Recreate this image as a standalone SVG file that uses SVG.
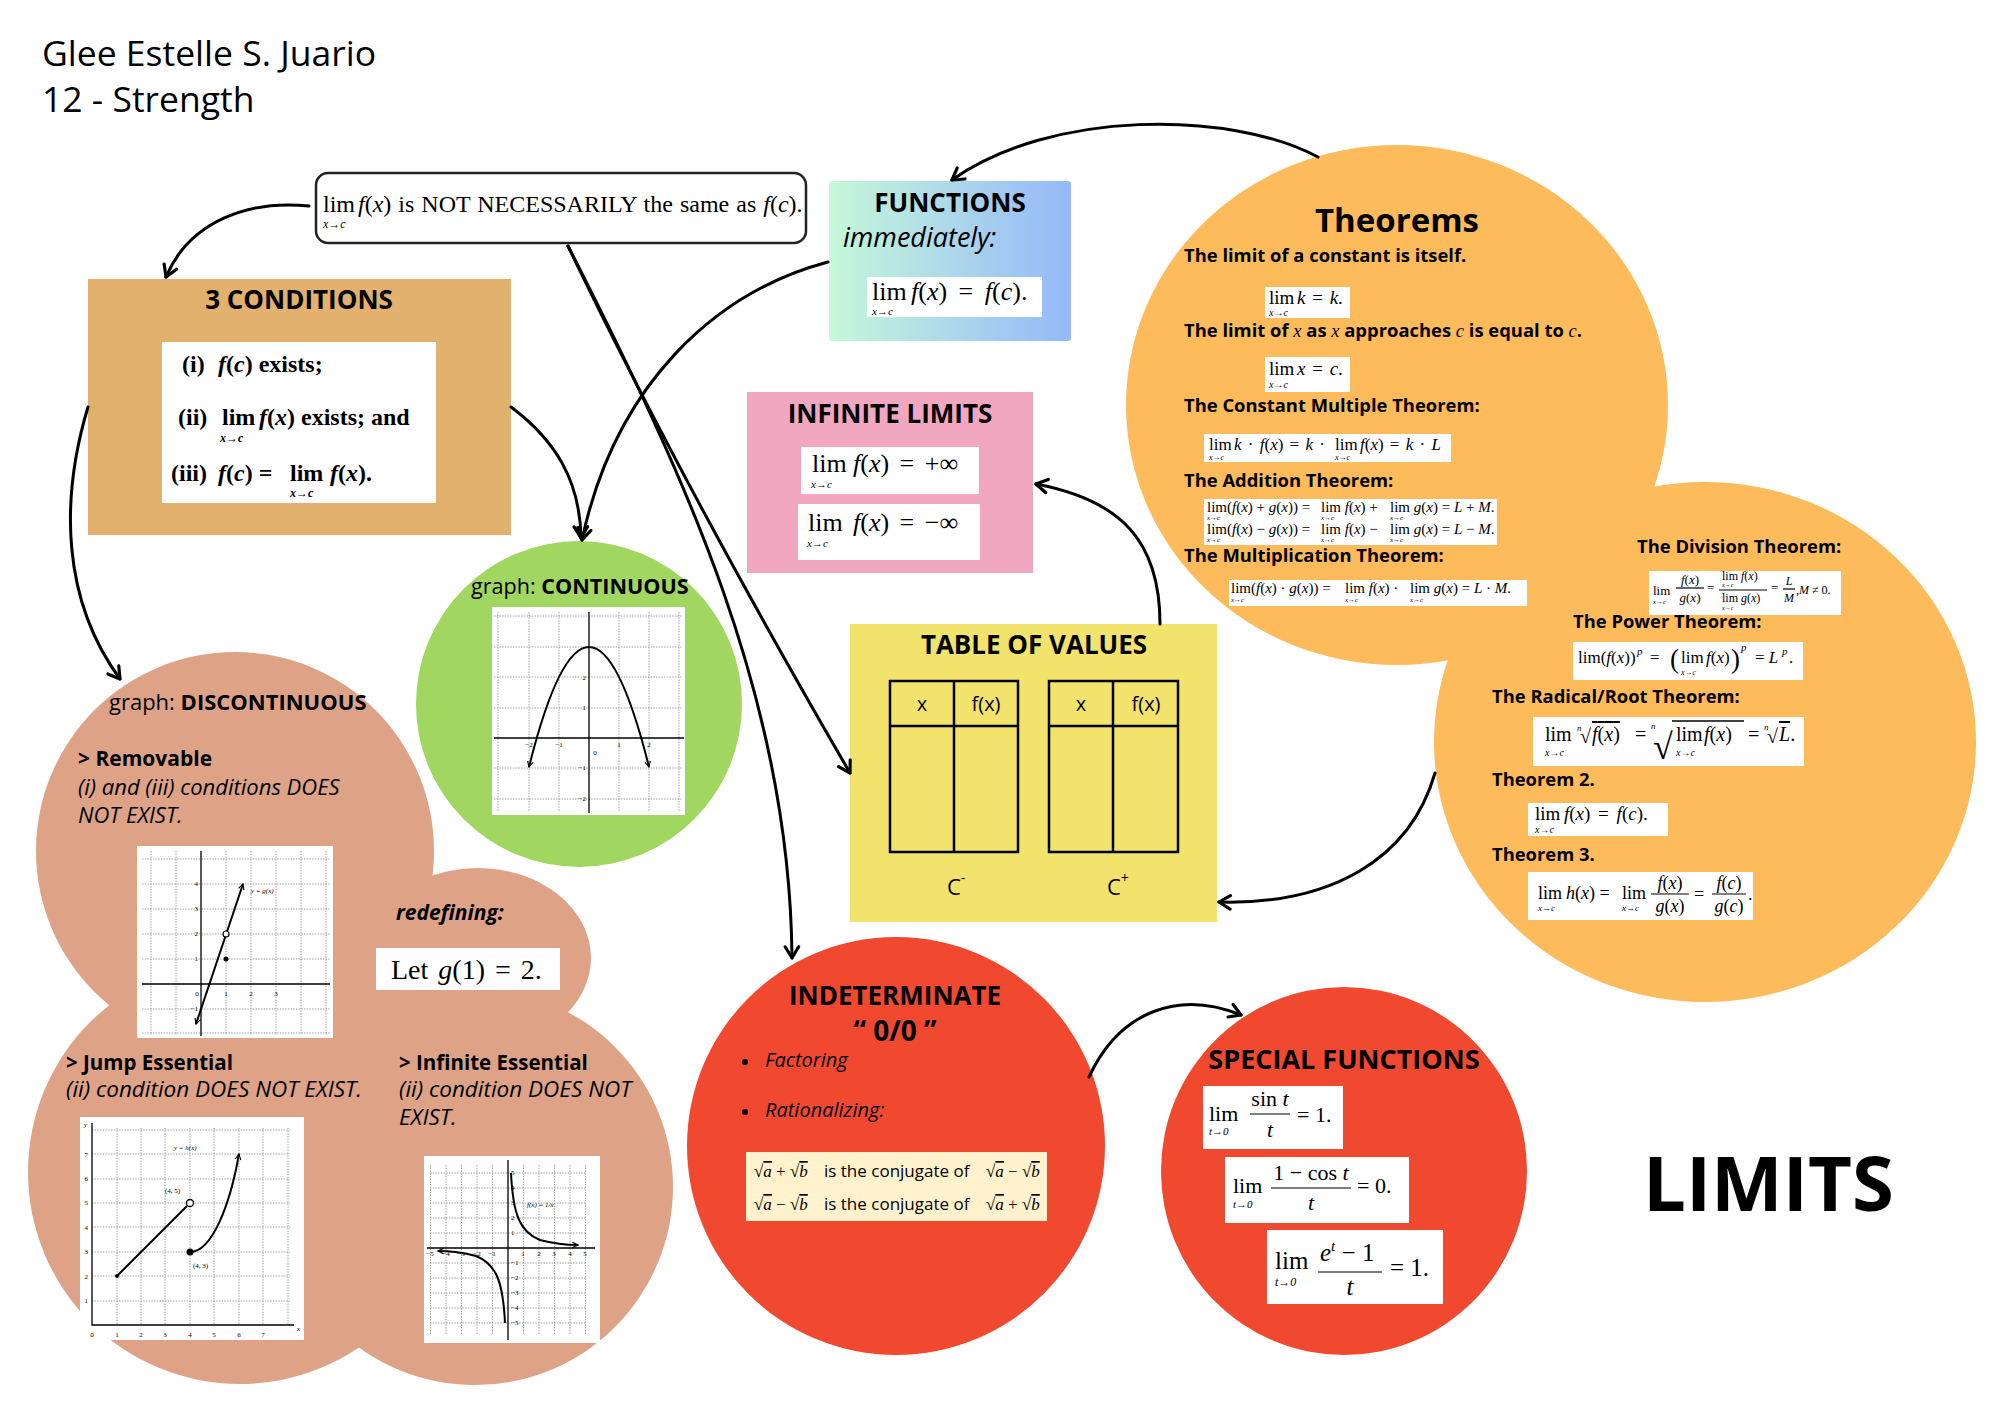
<svg xmlns="http://www.w3.org/2000/svg" width="2000" height="1414" viewBox="0 0 2000 1414">
<defs>
<style>
svg{font-family:"Open Sans","Liberation Sans",sans-serif}
text{fill:#000}
.hb{font-weight:700}
.m{font-family:"Liberation Serif","Times New Roman",serif}
.it{font-style:italic}
.wb{fill:#fff}
.con{fill:none;stroke:#000;stroke-width:3;stroke-linecap:round;marker-end:url(#ah)}
.grid{fill:none;stroke:#8a8a8a;stroke-width:0.8;stroke-dasharray:1.5 1.2}
.ax{stroke:#000;stroke-width:1.3;fill:none}
.crv{stroke:#000;stroke-width:2;fill:none}
.tk{font-family:"Liberation Serif",serif;font-size:7px}
.ol{text-decoration:overline}
.frac{stroke:#000;stroke-width:1.2}
.tbl{fill:none;stroke:#000;stroke-width:2.5}
</style>
<marker id="ah" viewBox="0 0 16 16" refX="13" refY="8" markerWidth="18" markerHeight="18" markerUnits="userSpaceOnUse" orient="auto"><path d="M3,2 L13,8 L3,14" fill="none" stroke="#000" stroke-width="2.8" stroke-linecap="round" stroke-linejoin="round"/></marker>
<marker id="sa" viewBox="0 0 10 10" refX="9" refY="5" markerWidth="7" markerHeight="7" markerUnits="userSpaceOnUse" orient="auto-start-reverse"><path d="M1,1 L9,5 L1,9" fill="none" stroke="#000" stroke-width="1.6"/></marker>
<linearGradient id="fg" x1="0" y1="0" x2="1" y2="0"><stop offset="0" stop-color="#C6F8D9"/><stop offset="1" stop-color="#94B8FA"/></linearGradient>
</defs>
<rect width="2000" height="1414" fill="#fff"/>

<g id="title">
<text x="42" y="66" font-size="35.5">Glee Estelle S. Juario</text>
<text x="42" y="112" font-size="35.5">12 - Strength</text>
</g>

<g id="limits-title"><text class="hb" x="1643" y="1211" font-size="76">LIMITS</text></g>

<g id="not-necessarily">
<rect x="316" y="173" width="490" height="70" rx="12" fill="#fff" stroke="#222" stroke-width="2.5"/>
<text class="m" font-size="24" y="212" word-spacing="1"><tspan x="323">lim</tspan><tspan x="358" class="it">f</tspan>(<tspan class="it">x</tspan>) is NOT NECESSARILY the same as <tspan class="it">f</tspan>(<tspan class="it">c</tspan>).</text>
<text class="m it" font-size="12" x="323" y="228">x→c</text>
</g>

<g id="three-conditions">
<rect x="88" y="279" width="423" height="256" fill="#E1B16D"/>
<text class="hb" x="299" y="309" font-size="26" text-anchor="middle">3 CONDITIONS</text>
<rect class="wb" x="162" y="342" width="274" height="161"/>
<text class="m hb" font-size="24" y="372"><tspan x="182">(i)</tspan><tspan x="218" class="it">f</tspan>(<tspan class="it">c</tspan>) exists;</text>
<text class="m hb" font-size="24" y="425"><tspan x="178">(ii)</tspan><tspan x="222">lim</tspan><tspan x="259" class="it">f</tspan>(<tspan class="it">x</tspan>) exists; and</text>
<text class="m hb it" font-size="12" x="220" y="442">x→c</text>
<text class="m hb" font-size="24" y="481"><tspan x="171">(iii)</tspan><tspan x="218" class="it">f</tspan>(<tspan class="it">c</tspan>) = <tspan x="290">lim</tspan><tspan x="330" class="it">f</tspan>(<tspan class="it">x</tspan>).</text>
<text class="m hb it" font-size="12" x="290" y="497">x→c</text>
</g>

<g id="functions">
<rect x="829" y="181" width="242" height="160" rx="3" fill="url(#fg)"/>
<text class="hb" x="950" y="212" font-size="26" text-anchor="middle">FUNCTIONS</text>
<text class="it" x="843" y="247" font-size="27">immediately:</text>
<rect class="wb" x="867" y="277" width="175" height="40"/>
<text class="m" font-size="26" y="300" word-spacing="5"><tspan x="872">lim</tspan><tspan x="911" class="it">f</tspan>(<tspan class="it">x</tspan>) = <tspan class="it">f</tspan>(<tspan class="it">c</tspan>).</text>
<text class="m it" font-size="11" x="872" y="315">x→c</text>
</g>

<g id="infinite-limits">
<rect x="747" y="392" width="286" height="181" fill="#F2A7C0"/>
<text class="hb" x="890" y="423" font-size="26" text-anchor="middle">INFINITE LIMITS</text>
<rect class="wb" x="801" y="447" width="178" height="47"/>
<rect class="wb" x="798" y="504" width="182" height="56"/>
<text class="m" font-size="26" y="472" word-spacing="4"><tspan x="812">lim</tspan><tspan x="853" class="it">f</tspan>(<tspan class="it">x</tspan>) = +∞</text>
<text class="m it" font-size="11" x="811" y="488">x→c</text>
<text class="m" font-size="26" y="531" word-spacing="4"><tspan x="808">lim</tspan><tspan x="853" class="it">f</tspan>(<tspan class="it">x</tspan>) = −∞</text>
<text class="m it" font-size="11" x="807" y="547">x→c</text>
</g>

<g id="continuous">
<circle cx="579" cy="704" r="163" fill="#A1D661"/>
<text x="471" y="594" font-size="21.6">graph: <tspan class="hb">CONTINUOUS</tspan></text>
<rect class="wb" x="492" y="607" width="193" height="208"/>
<path class="grid" d="M498,612V812M529,612V812M559,612V812M619,612V812M649,612V812M679,612V812M494,616H683M494,647H683M494,677H683M494,708H683M494,768H683M494,799H683"/>
<path class="ax" d="M589,612V813M494,738H684"/>
<path class="crv" d="M529,767 Q589,527 649,767" marker-start="url(#sa)" marker-end="url(#sa)"/>
<text class="tk" font-size="6" text-anchor="middle"><tspan x="529" y="747">−2</tspan><tspan x="559" y="747">−1</tspan><tspan x="619" y="747">1</tspan><tspan x="649" y="747">2</tspan><tspan x="595" y="755">0</tspan></text>
<text class="tk" font-size="6" text-anchor="end"><tspan x="586" y="680">2</tspan><tspan x="586" y="710">1</tspan><tspan x="586" y="770">−1</tspan><tspan x="586" y="801">−2</tspan></text>
</g>

<g id="table-of-values">
<rect x="850" y="624" width="367" height="298" fill="#F1E36C"/>
<text class="hb" x="1034" y="654" font-size="26" text-anchor="middle">TABLE OF VALUES</text>
<rect class="tbl" x="890" y="681" width="128" height="171"/>
<path class="tbl" d="M890,726H1018M954,681V852"/>
<rect class="tbl" x="1049" y="681" width="129" height="171"/>
<path class="tbl" d="M1049,726H1178M1113,681V852"/>
<text font-size="20" text-anchor="middle" y="711"><tspan x="922">x</tspan><tspan x="986">f(x)</tspan><tspan x="1081">x</tspan><tspan x="1146">f(x)</tspan></text>
<text x="947" y="895" font-size="22">C<tspan font-size="14" dy="-12">-</tspan></text>
<text x="1107" y="895" font-size="22">C<tspan font-size="14" dy="-12">+</tspan></text>
</g>

<g id="theorems">
<g fill="#FEBB5B"><ellipse cx="1397" cy="405" rx="271" ry="260"/><ellipse cx="1705" cy="742" rx="271" ry="260"/></g>
<text class="hb" x="1397" y="232" font-size="33" text-anchor="middle">Theorems</text>
<g class="hb" font-size="18.4">
<text x="1184" y="262">The limit of a constant is itself.</text>
<text x="1184" y="337">The limit of <tspan class="m it" font-weight="400">x</tspan> as <tspan class="m it" font-weight="400">x</tspan> approaches <tspan class="m it" font-weight="400">c</tspan> is equal to <tspan class="m it" font-weight="400">c</tspan>.</text>
<text x="1184" y="412">The Constant Multiple Theorem:</text>
<text x="1184" y="487">The Addition Theorem:</text>
<text x="1184" y="562">The Multiplication Theorem:</text>
<text x="1637" y="553">The Division Theorem:</text>
<text x="1573" y="628">The Power Theorem:</text>
<text x="1492" y="703">The Radical/Root Theorem:</text>
<text x="1492" y="786">Theorem 2.</text>
<text x="1492" y="861">Theorem 3.</text>
</g>
<g class="m">
<rect class="wb" x="1265" y="287" width="85" height="31"/>
<text font-size="19" y="304" word-spacing="2"><tspan x="1269">lim</tspan><tspan x="1297" class="it">k</tspan> = <tspan class="it">k</tspan>.</text>
<text class="it" font-size="10" x="1269" y="316">x→c</text>

<rect class="wb" x="1265" y="357" width="85" height="35"/>
<text font-size="19" y="375" word-spacing="2"><tspan x="1269">lim</tspan><tspan x="1297" class="it">x</tspan> = <tspan class="it">c</tspan>.</text>
<text class="it" font-size="10" x="1269" y="388">x→c</text>

<rect class="wb" x="1204" y="434" width="247" height="28"/>
<text font-size="17" y="450" word-spacing="2"><tspan x="1209">lim</tspan><tspan x="1234" class="it">k</tspan> · <tspan class="it">f</tspan>(<tspan class="it">x</tspan>) = <tspan class="it">k</tspan> · <tspan x="1335">lim</tspan><tspan x="1360" class="it">f</tspan>(<tspan class="it">x</tspan>) = <tspan class="it">k</tspan> · <tspan class="it">L</tspan></text>
<text class="it" font-size="8" y="460"><tspan x="1209">x→c</tspan><tspan x="1335">x→c</tspan></text>

<rect class="wb" x="1204" y="499" width="293" height="46"/>
<text font-size="15" y="512"><tspan x="1207">lim</tspan>(<tspan class="it">f</tspan>(<tspan class="it">x</tspan>) + <tspan class="it">g</tspan>(<tspan class="it">x</tspan>)) = <tspan x="1321">lim</tspan> <tspan class="it">f</tspan>(<tspan class="it">x</tspan>) + <tspan x="1390">lim</tspan> <tspan class="it">g</tspan>(<tspan class="it">x</tspan>) = <tspan class="it">L</tspan> + <tspan class="it">M</tspan>.</text>
<text class="it" font-size="7" y="520"><tspan x="1207">x→c</tspan><tspan x="1321">x→c</tspan><tspan x="1390">x→c</tspan></text>
<text font-size="15" y="534"><tspan x="1207">lim</tspan>(<tspan class="it">f</tspan>(<tspan class="it">x</tspan>) − <tspan class="it">g</tspan>(<tspan class="it">x</tspan>)) = <tspan x="1321">lim</tspan> <tspan class="it">f</tspan>(<tspan class="it">x</tspan>) − <tspan x="1390">lim</tspan> <tspan class="it">g</tspan>(<tspan class="it">x</tspan>) = <tspan class="it">L</tspan> − <tspan class="it">M</tspan>.</text>
<text class="it" font-size="7" y="542"><tspan x="1207">x→c</tspan><tspan x="1321">x→c</tspan><tspan x="1390">x→c</tspan></text>

<rect class="wb" x="1229" y="580" width="298" height="26"/>
<text font-size="15" y="593"><tspan x="1231">lim</tspan>(<tspan class="it">f</tspan>(<tspan class="it">x</tspan>) · <tspan class="it">g</tspan>(<tspan class="it">x</tspan>)) = <tspan x="1345">lim</tspan> <tspan class="it">f</tspan>(<tspan class="it">x</tspan>) · <tspan x="1410">lim</tspan> <tspan class="it">g</tspan>(<tspan class="it">x</tspan>) = <tspan class="it">L</tspan> · <tspan class="it">M</tspan>.</text>
<text class="it" font-size="7" y="602"><tspan x="1231">x→c</tspan><tspan x="1345">x→c</tspan><tspan x="1410">x→c</tspan></text>

<rect class="wb" x="1649" y="571" width="192" height="44"/>
<text font-size="13" x="1653" y="595">lim</text>
<text class="it" font-size="7" x="1653" y="604">x→c</text>
<text font-size="13" text-anchor="middle" x="1690" y="584"><tspan class="it">f</tspan>(<tspan class="it">x</tspan>)</text>
<line class="frac" x1="1676" y1="588" x2="1704" y2="588"/>
<text font-size="13" text-anchor="middle" x="1690" y="602"><tspan class="it">g</tspan>(<tspan class="it">x</tspan>)</text>
<text font-size="13" x="1707" y="592">=</text>
<text font-size="12" y="580"><tspan x="1722">lim</tspan> <tspan class="it">f</tspan>(<tspan class="it">x</tspan>)</text>
<text class="it" font-size="6" x="1722" y="587">x→c</text>
<line class="frac" x1="1719" y1="590" x2="1767" y2="590"/>
<text font-size="12" y="602"><tspan x="1722">lim</tspan> <tspan class="it">g</tspan>(<tspan class="it">x</tspan>)</text>
<text class="it" font-size="6" x="1722" y="610">x→c</text>
<text font-size="13" x="1771" y="592">=</text>
<text class="it" font-size="12" text-anchor="middle" x="1789" y="585">L</text>
<line class="frac" x1="1783" y1="589" x2="1795" y2="589"/>
<text class="it" font-size="12" text-anchor="middle" x="1789" y="602">M</text>
<text font-size="12" x="1796" y="594">,<tspan class="it">M</tspan> ≠ 0.</text>

<rect class="wb" x="1573" y="642" width="230" height="38"/>
<text font-size="17" y="663"><tspan x="1578">lim</tspan>(<tspan class="it">f</tspan>(<tspan class="it">x</tspan>))</text>
<text class="it" font-size="11" x="1637" y="655">p</text>
<text font-size="17" x="1650" y="663">=</text>
<text font-size="27" x="1670" y="668">(</text>
<text font-size="17" x="1681" y="663">lim</text>
<text class="it" font-size="8" x="1681" y="675">x→c</text>
<text font-size="17" x="1706" y="663"><tspan class="it">f</tspan>(<tspan class="it">x</tspan>)</text>
<text font-size="27" x="1731" y="668">)</text>
<text class="it" font-size="11" x="1741" y="651">p</text>
<text font-size="17" x="1755" y="663">= <tspan class="it">L</tspan></text>
<text class="it" font-size="11" x="1782" y="655">p</text>
<text font-size="17" x="1789" y="663">.</text>

<rect class="wb" x="1533" y="717" width="271" height="49"/>
<text font-size="20" x="1545" y="741">lim</text>
<text class="it" font-size="10" x="1545" y="756">x→c</text>
<text class="it" font-size="9" x="1577" y="731">n</text>
<text font-size="20" x="1580" y="743">√</text>
<text font-size="20" x="1592" y="741"><tspan class="ol"><tspan class="it">f</tspan>(<tspan class="it">x</tspan>)</tspan></text>
<text font-size="20" x="1635" y="741">=</text>
<text class="it" font-size="9" x="1651" y="729">n</text>
<text font-size="36" x="1653" y="759">√</text>
<line x1="1672" y1="721" x2="1744" y2="721" stroke="#000" stroke-width="1.3"/>
<text font-size="20" x="1676" y="741">lim</text>
<text class="it" font-size="10" x="1676" y="756">x→c</text>
<text font-size="20" x="1704" y="741"><tspan class="it">f</tspan>(<tspan class="it">x</tspan>)</text>
<text font-size="20" x="1748" y="741">=</text>
<text class="it" font-size="9" x="1764" y="730">n</text>
<text font-size="20" x="1767" y="743">√</text>
<text font-size="20" x="1779" y="741"><tspan class="ol it">L</tspan>.</text>

<rect class="wb" x="1528" y="803" width="140" height="33"/>
<text font-size="19" y="820" word-spacing="3"><tspan x="1535">lim</tspan><tspan x="1564" class="it">f</tspan>(<tspan class="it">x</tspan>) = <tspan class="it">f</tspan>(<tspan class="it">c</tspan>).</text>
<text class="it" font-size="10" x="1535" y="833">x→c</text>

<rect class="wb" x="1528" y="872" width="225" height="48"/>
<text font-size="18" y="899"><tspan x="1538">lim</tspan><tspan x="1566" class="it">h</tspan>(<tspan class="it">x</tspan>) = <tspan x="1622">lim</tspan></text>
<text class="it" font-size="9" y="911"><tspan x="1538">x→c</tspan><tspan x="1622">x→c</tspan></text>
<text font-size="18" text-anchor="middle" x="1670" y="889"><tspan class="it">f</tspan>(<tspan class="it">x</tspan>)</text>
<line class="frac" x1="1651" y1="894" x2="1689" y2="894"/>
<text font-size="18" text-anchor="middle" x="1670" y="912"><tspan class="it">g</tspan>(<tspan class="it">x</tspan>)</text>
<text font-size="18" x="1694" y="900">=</text>
<text font-size="18" text-anchor="middle" x="1729" y="889"><tspan class="it">f</tspan>(<tspan class="it">c</tspan>)</text>
<line class="frac" x1="1712" y1="894" x2="1746" y2="894"/>
<text font-size="18" text-anchor="middle" x="1729" y="912"><tspan class="it">g</tspan>(<tspan class="it">c</tspan>)</text>
<text font-size="18" x="1748" y="900">.</text>
</g>
</g>

<g id="discontinuous">
<g fill="#DEA387"><circle cx="235" cy="851" r="199"/><ellipse cx="478" cy="958" rx="113" ry="90"/><circle cx="240" cy="1172" r="212"/><circle cx="475" cy="1187" r="198"/><circle cx="385" cy="1000" r="45"/></g>
<text x="109" y="710" font-size="22">graph: <tspan class="hb">DISCONTINUOUS</tspan></text>
<text class="hb" x="78" y="766" font-size="21">&gt; Removable</text>
<text class="it" x="78" y="795" font-size="22">(i) and (iii) conditions DOES</text>
<text class="it" x="78" y="823" font-size="22">NOT EXIST.</text>
<rect class="wb" x="137" y="846" width="196" height="192"/>
<path class="grid" d="M151,851V1035M176,851V1035M226,851V1035M251,851V1035M276,851V1035M301,851V1035M326,851V1035M142,859H330M142,884H330M142,909H330M142,934H330M142,959H330M142,1009H330M142,1033H330"/>
<path class="ax" d="M201,851V1036M142,984H330"/>
<path class="crv" d="M196,1024L243,884" marker-start="url(#sa)" marker-end="url(#sa)"/>
<circle cx="226" cy="934" r="3" fill="#fff" stroke="#000" stroke-width="1.2"/>
<circle cx="226" cy="959" r="2.5"/>
<text class="tk it" x="251" y="893">y = g(x)</text>
<text class="tk" text-anchor="end"><tspan x="198" y="886">4</tspan><tspan x="198" y="911">3</tspan><tspan x="198" y="936">2</tspan><tspan x="198" y="961">1</tspan><tspan x="198" y="1011">−1</tspan></text>
<text class="tk" text-anchor="middle"><tspan x="197" y="996">0</tspan><tspan x="226" y="996">1</tspan><tspan x="251" y="996">2</tspan><tspan x="276" y="996">3</tspan></text>
<text class="hb it" x="396" y="920" font-size="21">redefining:</text>
<rect class="wb" x="376" y="948" width="184" height="42"/>
<text class="m" x="391" y="979" font-size="28" word-spacing="3">Let <tspan class="it">g</tspan>(1) = 2.</text>
<text class="hb" x="66" y="1070" font-size="20.5">&gt; Jump Essential</text>
<text class="it" x="66" y="1097" font-size="22.5">(ii) condition DOES NOT EXIST.</text>
<text class="hb" x="399" y="1070" font-size="20.5">&gt; Infinite Essential</text>
<text class="it" x="399" y="1097" font-size="22.5">(ii) condition DOES NOT</text>
<text class="it" x="399" y="1125" font-size="22.5">EXIST.</text>
<rect class="wb" x="80" y="1117" width="224" height="223"/>
<path class="grid" d="M117,1128V1325M141,1128V1325M165,1128V1325M190,1128V1325M214,1128V1325M239,1128V1325M263,1128V1325M288,1128V1325M92,1301H290M92,1276H290M92,1252H290M92,1227H290M92,1203H290M92,1179H290M92,1154H290M92,1130H290"/>
<path class="ax" d="M92,1123V1325H294"/>
<path class="crv" d="M117,1276L187,1206"/>
<circle cx="117" cy="1276" r="2"/>
<circle cx="190" cy="1203" r="3.5" fill="#fff" stroke="#000" stroke-width="1.3"/>
<circle cx="190" cy="1252" r="3.5"/>
<path class="crv" d="M190,1252 C212,1252 230,1205 239,1154" marker-end="url(#sa)"/>
<text class="tk" font-size="8"><tspan x="165" y="1193">(4, 5)</tspan><tspan x="193" y="1268">(4, 3)</tspan></text>
<text class="tk it" x="174" y="1150">y = h(x)</text>
<text class="tk" text-anchor="middle"><tspan x="92" y="1337">0</tspan><tspan x="117" y="1337">1</tspan><tspan x="141" y="1337">2</tspan><tspan x="165" y="1337">3</tspan><tspan x="190" y="1337">4</tspan><tspan x="214" y="1337">5</tspan><tspan x="239" y="1337">6</tspan><tspan x="263" y="1337">7</tspan></text>
<text class="tk" text-anchor="end"><tspan x="88" y="1303">1</tspan><tspan x="88" y="1279">2</tspan><tspan x="88" y="1254">3</tspan><tspan x="88" y="1230">4</tspan><tspan x="88" y="1205">5</tspan><tspan x="88" y="1181">6</tspan><tspan x="88" y="1157">7</tspan></text>
<text class="tk it"><tspan x="84" y="1127">y</tspan><tspan x="297" y="1331">x</tspan></text>
<rect class="wb" x="424" y="1156" width="176" height="187"/>
<path class="grid" d="M430.5,1165V1335M446,1165V1335M461.5,1165V1335M477,1165V1335M492.5,1165V1335M523.5,1165V1335M539,1165V1335M554.5,1165V1335M570,1165V1335M585.5,1165V1335M430,1173H586M430,1188H586M430,1203H586M430,1218H586M430,1233H586M430,1263H586M430,1278H586M430,1293H586M430,1308H586M430,1323H586"/>
<path class="ax" d="M508,1160V1340M427,1248H595"/>
<path class="crv" d="M511,1173 C513,1215 520,1232 540,1240 C555,1244 568,1245 578,1245" marker-end="url(#sa)"/>
<path class="crv" d="M438,1251 C448,1251 461,1252 476,1256 C496,1264 503,1281 505,1323" marker-start="url(#sa)"/>
<text class="tk it" font-size="6" x="527" y="1207">f(x) = 1/x</text>
<text class="tk" font-size="5.5" text-anchor="middle"><tspan x="430" y="1256">−5</tspan><tspan x="446" y="1256">−4</tspan><tspan x="461" y="1256">−3</tspan><tspan x="477" y="1256">−2</tspan><tspan x="492" y="1256">−1</tspan><tspan x="523" y="1256">1</tspan><tspan x="539" y="1256">2</tspan><tspan x="554" y="1256">3</tspan><tspan x="570" y="1256">4</tspan><tspan x="585" y="1256">5</tspan></text>
<text class="tk" font-size="5.5"><tspan x="511" y="1175">5</tspan><tspan x="511" y="1190">4</tspan><tspan x="511" y="1205">3</tspan><tspan x="511" y="1220">2</tspan><tspan x="511" y="1235">1</tspan><tspan x="511" y="1265">−1</tspan><tspan x="511" y="1280">−2</tspan><tspan x="511" y="1295">−3</tspan><tspan x="511" y="1310">−4</tspan><tspan x="511" y="1325">−5</tspan></text>
</g>

<g id="indeterminate">
<circle cx="896" cy="1146" r="209" fill="#F0492F"/>
<text class="hb" x="895" y="1005" font-size="26" text-anchor="middle">INDETERMINATE</text>
<text class="hb" x="895" y="1041" font-size="28" text-anchor="middle">“ 0/0 ”</text>
<circle cx="745" cy="1062" r="3"/>
<text class="it" x="765" y="1067" font-size="20">Factoring</text>
<circle cx="745" cy="1112" r="3"/>
<text class="it" x="765" y="1117" font-size="20">Rationalizing:</text>
<rect x="746" y="1152" width="301" height="69" fill="#FFF2CC"/>
<text class="m" font-size="17" x="754" y="1177">√<tspan class="ol it">a</tspan> + √<tspan class="ol it">b</tspan></text>
<text font-size="17" x="824" y="1177">is the conjugate of</text>
<text class="m" font-size="17" x="986" y="1177">√<tspan class="ol it">a</tspan> − √<tspan class="ol it">b</tspan></text>
<text class="m" font-size="17" x="754" y="1210">√<tspan class="ol it">a</tspan> − √<tspan class="ol it">b</tspan></text>
<text font-size="17" x="824" y="1210">is the conjugate of</text>
<text class="m" font-size="17" x="986" y="1210">√<tspan class="ol it">a</tspan> + √<tspan class="ol it">b</tspan></text>
</g>

<g id="special-functions">
<ellipse cx="1344" cy="1171" rx="183" ry="184" fill="#F0492F"/>
<text class="hb" x="1344" y="1069" font-size="27" text-anchor="middle">SPECIAL FUNCTIONS</text>
<g class="m">
<rect class="wb" x="1203" y="1086" width="140" height="63"/>
<text font-size="22" x="1209" y="1121">lim</text>
<text class="it" font-size="11" x="1209" y="1135">t→0</text>
<text font-size="22" text-anchor="middle" x="1270" y="1106">sin <tspan class="it">t</tspan></text>
<line class="frac" x1="1250" y1="1114" x2="1290" y2="1114"/>
<text class="it" font-size="22" text-anchor="middle" x="1270" y="1137">t</text>
<text font-size="22" x="1297" y="1122">= 1.</text>

<rect class="wb" x="1225" y="1157" width="184" height="66"/>
<text font-size="22" x="1233" y="1193">lim</text>
<text class="it" font-size="11" x="1233" y="1208">t→0</text>
<text font-size="22" text-anchor="middle" x="1311" y="1180">1 − cos <tspan class="it">t</tspan></text>
<line class="frac" x1="1271" y1="1188" x2="1351" y2="1188"/>
<text class="it" font-size="22" text-anchor="middle" x="1311" y="1210">t</text>
<text font-size="22" x="1357" y="1193">= 0.</text>

<rect class="wb" x="1267" y="1230" width="176" height="74"/>
<text font-size="25" x="1275" y="1269">lim</text>
<text class="it" font-size="12" x="1275" y="1286">t→0</text>
<text font-size="25" x="1320" y="1261"><tspan class="it">e</tspan><tspan class="it" font-size="15" dy="-10">t</tspan><tspan dy="10"> − 1</tspan></text>
<line class="frac" x1="1318" y1="1272" x2="1382" y2="1272"/>
<text class="it" font-size="25" text-anchor="middle" x="1350" y="1295">t</text>
<text font-size="25" x="1390" y="1276">= 1.</text>
</g>
</g>

<g id="connectors">
<path class="con" d="M309,206 C250,200 190,220 166,277"/>
<path class="con" d="M88,407 C60,500 62,600 120,679"/>
<path class="con" d="M511,407 C555,440 580,480 581,538"/>
<path class="con" d="M828,262 C715,292 615,385 582,540"/>
<path class="con" d="M568,246 Q680,480 850,773"/>
<path class="con" d="M568,246 C685,475 790,700 792,958"/>
<path class="con" d="M1318,157 C1230,110 1050,110 952,180"/>
<path class="con" d="M1160,624 C1160,540 1120,500 1036,484"/>
<path class="con" d="M1435,773 C1410,860 1330,905 1219,902"/>
<path class="con" d="M1089,1077 C1120,1010 1180,990 1241,1015"/>
</g>
</svg>
